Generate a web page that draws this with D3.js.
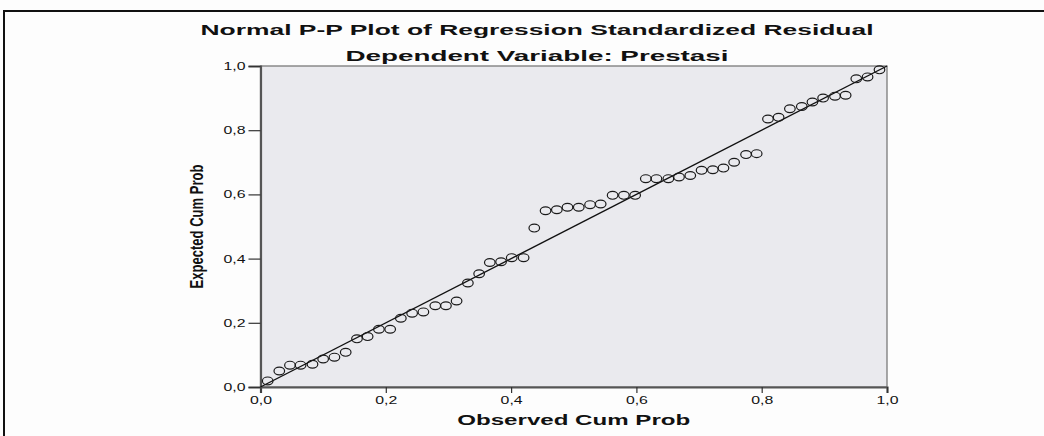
<!DOCTYPE html>
<html>
<head>
<meta charset="utf-8">
<script src="https://cdn.jsdelivr.net/npm/d3@7"></script>
<style>
  html, body { margin: 0; padding: 0; background: #fdfdfd; }
  svg { display: block; }
  text { font-family: "Liberation Sans", Arial, sans-serif; fill: #111; }
</style>
</head>
<body>
<svg id="chart" width="1044" height="436"></svg>
<script>
// ---- data ----
const titleLines = ["Normal P-P Plot of Regression Standardized Residual", "Dependent Variable: Prestasi"];
const xLabel = "Observed Cum Prob";
const yLabel = "Expected Cum Prob";
const tickValues = [0, 0.2, 0.4, 0.6, 0.8, 1.0];
const tickLabels = ["0,0", "0,2", "0,4", "0,6", "0,8", "1,0"];

const observed = [0.0115, 0.030, 0.047, 0.064, 0.083, 0.100, 0.118, 0.136, 0.154, 0.171,
  0.189, 0.207, 0.224, 0.242, 0.260, 0.279, 0.296, 0.313, 0.331, 0.349,
  0.366, 0.384, 0.401, 0.420, 0.437, 0.455, 0.473, 0.490, 0.508, 0.526,
  0.543, 0.562, 0.580, 0.598, 0.615, 0.632, 0.651, 0.668, 0.686, 0.704,
  0.722, 0.739, 0.756, 0.775, 0.792, 0.810, 0.827, 0.845, 0.864, 0.881,
  0.898, 0.917, 0.934, 0.951, 0.969, 0.988];
const expected = [0.019, 0.050, 0.068, 0.068, 0.071, 0.087, 0.093, 0.108, 0.150, 0.157,
  0.180, 0.180, 0.214, 0.230, 0.234, 0.253, 0.253, 0.268, 0.324, 0.353,
  0.388, 0.390, 0.403, 0.403, 0.495, 0.549, 0.552, 0.560, 0.560, 0.568,
  0.570, 0.597, 0.597, 0.597, 0.649, 0.649, 0.649, 0.654, 0.659, 0.675,
  0.677, 0.682, 0.700, 0.724, 0.727, 0.835, 0.840, 0.867, 0.874, 0.888,
  0.900, 0.906, 0.909, 0.960, 0.966, 0.988];
const refLine = [0, 1];

// ---- layout ----
const svg = d3.select("#chart");
const x = d3.scaleLinear().domain([0, 1]).range([260.5, 887]);
const y = d3.scaleLinear().domain([0, 1]).range([387, 66]);

// outer frame (top & left)
svg.append("line").attr("x1", 4).attr("x2", 1044).attr("y1", 11).attr("y2", 11)
  .attr("stroke", "#111").attr("stroke-width", 2);
svg.append("line").attr("x1", 4).attr("x2", 4).attr("y1", 10).attr("y2", 436)
  .attr("stroke", "#111").attr("stroke-width", 2);

// plot background
svg.append("rect")
  .attr("x", x(0)).attr("y", y(1))
  .attr("width", x(1) - x(0)).attr("height", y(0) - y(1))
  .attr("fill", "#eaeaee")
  .attr("stroke", "#707070").attr("stroke-width", 1.2);

// axes
const fmt = d => tickLabels[tickValues.indexOf(d)];
const gx = svg.append("g").attr("transform", `translate(0,${y(0)})`)
  .call(d3.axisBottom(x).tickValues(tickValues).tickFormat(fmt).tickSize(6).tickPadding(3));
const gy = svg.append("g").attr("transform", `translate(${x(0)},0)`)
  .call(d3.axisLeft(y).tickValues(tickValues).tickFormat(fmt).tickSize(12).tickPadding(3));

[gx, gy].forEach(g => {
  g.select(".domain").attr("stroke", "#555").attr("stroke-width", 2.2);
  g.selectAll(".tick line").attr("stroke", "#333").attr("stroke-width", 1.2);
  g.selectAll(".tick text")
    .attr("font-family", "'Liberation Sans', Arial, sans-serif")
    .attr("font-size", 11).attr("fill", "#333")
    .attr("textLength", 22).attr("lengthAdjust", "spacingAndGlyphs");
});

// reference line
svg.append("line")
  .attr("x1", x(refLine[0])).attr("y1", y(refLine[0]))
  .attr("x2", x(refLine[1])).attr("y2", y(refLine[1]))
  .attr("stroke", "#111").attr("stroke-width", 1.4);

// points
svg.append("g").selectAll("ellipse")
  .data(observed.map((o, i) => [o, expected[i]]))
  .join("ellipse")
  .attr("cx", d => x(d[0])).attr("cy", d => y(d[1]))
  .attr("rx", 5.3).attr("ry", 3.9)
  .attr("fill", "none").attr("stroke", "#1a1a1a").attr("stroke-width", 1.2);

// titles
svg.append("text").attr("x", 537).attr("y", 35).attr("text-anchor", "middle")
  .attr("font-size", 15.5).attr("font-weight", "bold")
  .attr("textLength", 673).attr("lengthAdjust", "spacingAndGlyphs")
  .text(titleLines[0]);
svg.append("text").attr("x", 537).attr("y", 61).attr("text-anchor", "middle")
  .attr("font-size", 15.5).attr("font-weight", "bold")
  .attr("textLength", 383).attr("lengthAdjust", "spacingAndGlyphs")
  .text(titleLines[1]);

// axis labels
svg.append("text").attr("x", (x(0) + x(1)) / 2).attr("y", 425).attr("text-anchor", "middle")
  .attr("font-size", 14).attr("font-weight", "bold")
  .attr("textLength", 233).attr("lengthAdjust", "spacingAndGlyphs")
  .text(xLabel);
svg.append("text")
  .attr("transform", `translate(203,${(y(0) + y(1)) / 2}) rotate(-90)`)
  .attr("text-anchor", "middle")
  .attr("font-size", 18).attr("font-weight", "bold")
  .attr("textLength", 124).attr("lengthAdjust", "spacingAndGlyphs")
  .text(yLabel);
</script>
</body>
</html>
